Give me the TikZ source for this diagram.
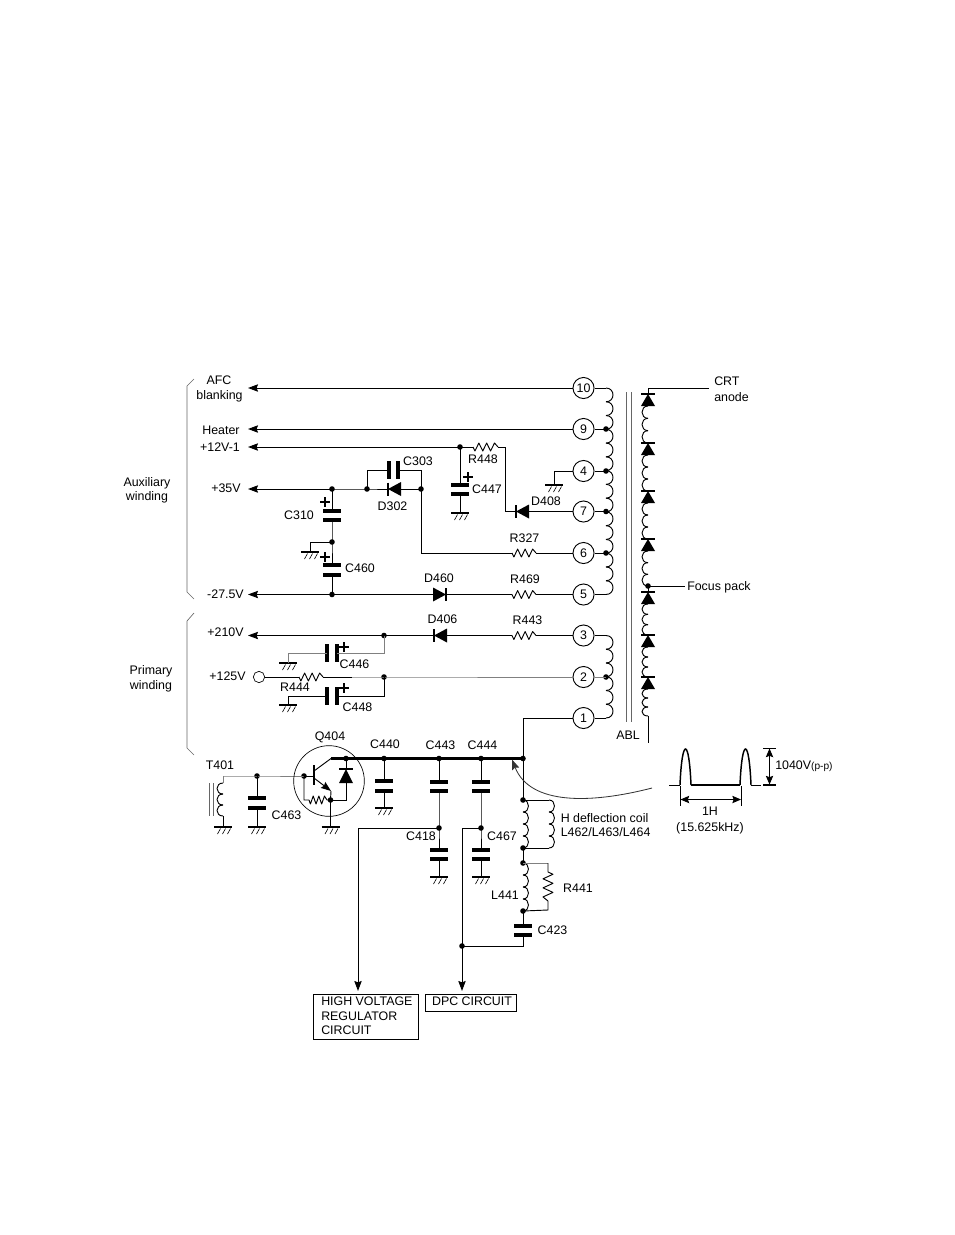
\documentclass[tikz,border=0pt]{standalone}
\usepackage{fontspec}
\setmainfont{Liberation Sans}
\usetikzlibrary{arrows.meta,calc}
\tikzset{
  wire/.style={line width=0.7pt,line join=miter},
  gw/.style={line width=0.7pt,draw=black!50},
  thin gray/.style={line width=0.5pt,draw=black!60},
  bus/.style={line width=1.8pt},
  plate/.style={line width=2.8pt},
  arr/.style={-{Stealth[length=7.5pt,width=5.5pt,inset=1pt]}},
  arrboth/.style={{Stealth[length=6.5pt,width=5.5pt,inset=1pt]}-{Stealth[length=6.5pt,width=5.5pt,inset=1pt]}},
  lab/.style={inner sep=0pt,font=\fontsize{9.3}{10.9}\selectfont,align=center,text height=6.7pt,text depth=0pt},
  labl/.style={lab,anchor=west,align=left},
  pin/.style={circle,draw,line width=0.7pt,minimum size=15.8pt,inner sep=0pt,font=\fontsize{9.3}{10.9}\selectfont},
}
\newcommand\jdot[3]{\coordinate (#1) at (#2,#3); \fill (#1) circle (2.8);}
\newcommand\capV[4]{\coordinate (#1-t) at (#2,#3); \coordinate (#1-b) at (#2,#4);
  \draw[plate] (#2-9,#3)--(#2+9,#3); \draw[plate] (#2-9,#4)--(#2+9,#4);}
\newcommand\capH[4]{\coordinate (#1-l) at (#3,#2); \coordinate (#1-r) at (#4,#2);
  \draw[plate] (#3,#2-9)--(#3,#2+9); \draw[plate] (#4,#2-9)--(#4,#2+9);}
\newcommand\resH[4]{\coordinate (#1-l) at (#2,#4); \coordinate (#1-r) at (#3,#4);
  \draw[wire,line join=round] (#2,#4)
   \foreach \k/\s in {1/-1,2/1,3/-1,4/1,5/-1,6/1}{ -- ({#2+(#3-#2)*(\k-0.5)/6.4},{#4-\s*4}) } -- (#3,#4);}
\newcommand\resV[4]{\coordinate (#1-t) at (#2,#3); \coordinate (#1-b) at (#2,#4);
  \draw[wire,line join=round] (#2,#3)
   \foreach \k/\s in {1/-1,2/1,3/-1,4/1,5/-1,6/1}{ -- ({#2-\s*5},{#3+(#4-#3)*(\k-0.5)/6.4}) } -- (#2,#4);}
\newcommand\dioH[4]{\coordinate (#1-bar) at (#2,#4); \coordinate (#1-base) at (#3,#4);
  \draw[line width=2pt] (#2,#4-6.5)--(#2,#4+6.5); \fill (#2,#4)--(#3,#4-7)--(#3,#4+7)--cycle;}
\newcommand\dioV[4]{\coordinate (#1-bar) at (#2,#3); \coordinate (#1-base) at (#2,#4);
  \draw[line width=1.6pt] (#2-7,#3)--(#2+7,#3); \fill (#2,#3)--(#2-7,#4)--(#2+7,#4)--cycle;}
\newcommand\gnd[3]{\coordinate (#1) at (#2,#3);
  \draw[line width=2pt] (#2-9,#3)--(#2+9,#3);
  \draw[line width=0.45pt] (#2-2.5,#3+1.5)--(#2-5.5,#3+7) (#2+2.5,#3+1.5)--(#2-0.5,#3+7) (#2+7.5,#3+1.5)--(#2+4.5,#3+7);}
\newcommand\coilV[5]{\foreach \k in {1,...,#4}{
   \pgfmathsetmacro\ya{#2+(\k-1)*(#3-#2)/#4}
   \pgfmathsetmacro\yb{#2+\k*(#3-#2)/#4}
   \draw[wire] (#1,\ya) .. controls ({#1+(#5)*1.33},\ya) and ({#1+(#5)*1.33},\yb) .. (#1,\yb);}}
\newcommand\plus[3]{\coordinate (#1) at (#2,#3); \draw[line width=1pt] (#2-5,#3)--(#2+5,#3) (#2,#3-5)--(#2,#3+5);}
\begin{document}
\begin{tikzpicture}[x=0.75pt,y=-0.75pt]
\useasboundingbox (0,0) rectangle (954,1235);
% ---------- pins
\node[pin] (p10) at (583.5,388) {10};
\node[pin] (p9) at (583.5,429) {9};
\node[pin] (p4) at (583.5,471) {4};
\node[pin] (p7) at (583.5,511.5) {7};
\node[pin] (p6) at (583.5,553) {6};
\node[pin] (p5) at (583.5,594.5) {5};
\node[pin] (p3) at (583.5,635.5) {3};
\node[pin] (p2) at (583.5,677) {2};
\node[pin] (p1) at (583.5,718) {1};
% ---------- primary winding coils
\coilV{606}{388}{594.5}{15}{7}
\coilV{606}{635.5}{718}{6}{7}
\jdot{t9}{606}{429}\jdot{t4}{606}{471}\jdot{t7}{606}{511.5}\jdot{t6}{606}{553}\jdot{t2}{606}{677}
\coordinate (t10) at (606,388);\coordinate (t5) at (606,594.5);\coordinate (t3) at (606,635.5);\coordinate (t1) at (606,718);
\draw[wire] (p10)--(t10) (p9)--(t9) (p4)--(t4) (p7)--(t7) (p6)--(t6) (p5)--(t5) (p3)--(t3) (p1)--(t1);
\draw[gw] (p2)--(t2);
% ---------- core
\coordinate (coreA) at (626,392);\coordinate (coreB) at (626,722);\coordinate (coreC) at (631,392);\coordinate (coreD) at (631,722);
\draw[thin gray] (coreA)--(coreB) (coreC)--(coreD);
\node[lab] (abl) at (628,735) {ABL};
% ---------- secondary
\dioV{d1}{648}{394}{406}\dioV{d2}{648}{443}{455}\dioV{d3}{648}{491}{503}\dioV{d4}{648}{539}{551}
\dioV{d5}{648}{592}{604}\dioV{d6}{648}{635}{647}\dioV{d7}{648}{677}{689}
\coilV{648}{406}{443}{3}{-6}\coilV{648}{455}{491}{3}{-6}\coilV{648}{503}{539}{3}{-6}\coilV{648}{551}{586}{3}{-6}
\coilV{648}{604}{635}{3}{-6}\coilV{648}{647}{677}{3}{-6}\coilV{648}{689}{716}{3}{-6}
\coordinate (crtc) at (709,388);\coordinate (crtb) at (648,388);
\draw[line width=0.5pt] (crtc)--(crtb)--(d1-bar);
\jdot{fp}{648}{586}
\coordinate (fpe) at (685,586);\draw[wire] (fp)--(fpe)  (fp)--(d5-bar);
\coordinate (sece) at (648,743);\coordinate (secb) at (648,716);\draw[wire] (secb)--(sece);
\node[labl] (crt) at (714,381.5) {CRT};
\node[labl] (anode) at (714,397) {anode};
\node[labl] (focus) at (687,586) {Focus pack};
% ---------- left arrows
\coordinate (a10) at (248,388);\coordinate (a9) at (248,429);\coordinate (a12) at (248,447);\coordinate (a35) at (248,489);\coordinate (a27) at (248,594.5);\coordinate (a210) at (248,635.5);
\draw[wire,arr] (p10)--(a10);
\draw[wire,arr] (p9)--(a9);
% +12V-1
\jdot{j12}{460}{447}
\resH{r448}{473}{498}{447}
\coordinate (c12) at (505,447);
\draw[wire,arr] (j12)--(a12);
\draw[wire] (j12)--(r448-l) (r448-r)--(c12);
\capV{c447}{460}{485}{494}
\gnd{g447}{460}{513}
\draw[wire] (j12)--(c447-t) (c447-b)--(g447);
\plus{pc447}{468}{477}
\dioH{d408}{516}{529}{511.5}
\coordinate (c408) at (505,511.5);
\draw[wire] (c12)--(c408)--(d408-bar) (d408-base)--(p7);
% pin 4 ground
\gnd{g4}{554}{485}
\coordinate (c4) at (554,471);
\draw[wire] (p4)--(c4)--(g4);
% +35V
\jdot{j35a}{332}{489}\jdot{j35b}{367}{489}\jdot{j35c}{421}{489}
\dioH{d302}{388}{401}{489}
\draw[wire,arr] (j35a)--(a35);
\draw[wire] (j35a)--(j35b)--(d302-bar) (d302-base)--(j35c);
\capH{c303}{470}{389}{398}
\coordinate (c303a) at (367,470);\coordinate (c303b) at (421,470);
\draw[wire] (j35b)--(c303a)--(c303-l) (c303-r)--(c303b)--(j35c);
\resH{r327}{512}{536}{553}
\coordinate (c327) at (421,553);
\draw[wire] (j35c)--(c327)--(r327-l) (r327-r)--(p6);
% C310 / C460
\capV{c310}{332}{511}{520}
\plus{pc310}{325}{502}
\jdot{jm}{332}{542}
\capV{c460}{332}{565}{575}
\plus{pc460}{325}{557}
\jdot{j27}{332}{594.5}
\coordinate (cm) at (310,542);\gnd{gm}{310}{552}
\draw[wire] (j35a)--(c310-t) (c310-b)--(jm)--(c460-t) (c460-b)--(j27) (jm)--(cm)--(gm);
% -27.5V
\draw[wire,arr] (j27)--(a27);
\dioH{d460}{446}{433}{594.5}
\resH{r469}{512}{536}{594.5}
\draw[wire] (j27)--(d460-base) (d460-bar)--(r469-l) (r469-r)--(p5);
% +210V
\jdot{j210}{384}{635.5}
\dioH{d406}{434}{447}{635.5}
\resH{r443}{512}{536}{635.5}
\draw[wire,arr] (j210)--(a210);
\draw[wire] (j210)--(d406-bar) (d406-base)--(r443-l) (r443-r)--(p3);
\capH{c446}{653}{327}{337}
\coordinate (c446a) at (384,653);\coordinate (c446b) at (288,653);\gnd{g446}{288}{663}
\draw[gw] (j210)--(c446a)--(c446-r) (c446-l)--(c446b)--(g446);
\plus{pc446}{344}{647}
% +125V
\node[circle,draw,line width=0.5pt,minimum size=8.5pt,inner sep=0pt] (o125) at (259,677) {};
\resH{r444}{299}{323}{677}
\jdot{j125}{384}{677}
\coordinate (g125) at (352,677);
\draw[wire] (o125)--(r444-l) (r444-r)--(g125);
\draw[gw] (g125)--(j125)--(p2);
\capH{c448}{696}{327}{337}
\coordinate (c448a) at (384,696);\coordinate (c448b) at (288,696);\gnd{g448}{288}{705}
\draw[wire] (j125)--(c448a)--(c448-r) (c448-l)--(c448b)--(g448);
\plus{pc448}{344}{688}
% ---------- brackets
\coordinate (b1a) at (194,379);\coordinate (b1b) at (187,386);\coordinate (b1c) at (187,592);\coordinate (b1d) at (194,599);
\coordinate (b2a) at (194,613);\coordinate (b2b) at (187,621);\coordinate (b2c) at (187,748);\coordinate (b2d) at (194,755);
\draw[thin gray] (b1a)--(b1b)--(b1c)--(b1d);
\draw[thin gray] (b2a)--(b2b)--(b2c)--(b2d);
% ---------- T401
\coordinate (t401a) at (223,776);\coordinate (t401b) at (223,783);\coordinate (t401c) at (223,816);\gnd{gt}{223}{827}
\coilV{223}{783}{816}{3}{-6}
\draw[gw] (t401a)--(t401b);
\draw[wire] (t401c)--(gt);
\coordinate (cr1) at (209,783);\coordinate (cr2) at (209,816);\coordinate (cr3) at (213,783);\coordinate (cr4) at (213,816);
\draw[thin gray] (cr1)--(cr2) (cr3)--(cr4);
\jdot{j257}{257}{776}\jdot{jb}{304}{776}
\draw[gw] (t401a)--(j257)--(jb);
\capV{c463}{257}{798}{808}
\gnd{g463}{257}{827}
\draw[wire] (j257)--(c463-t) (c463-b)--(g463);
% ---------- Q404
\node[circle,draw,line width=0.5pt,minimum size=53pt,inner sep=0pt] (q404) at (329,781) {};
\coordinate (bb) at (314,776);\coordinate (bt) at (314,765);\coordinate (bbo) at (314,785);
\draw[line width=1.8pt] (bt)--(bbo);
\draw[wire] (jb)--(bb);
\coordinate (cl) at (314,771);\coordinate (ct) at (331,758.5);
\draw[wire] (cl)--(ct);
\coordinate (el) at (314,778);\coordinate (et) at (331,791);
\draw[wire,arr] (el)--(et);
\jdot{je}{330.5}{800}
\coordinate (cr) at (304,800);
\resH{r}{309}{327}{800}
\draw[wire] (et)--(je) (jb)--(cr)--(r-l) (r-r)--(je);
\gnd{gq}{330.5}{827}
\draw[wire] (je)--(gq);
\dioV{dq}{346}{769}{783}
\jdot{jd}{346}{758.5}
\coordinate (cd) at (346,800);
\draw[wire] (jd)--(dq-bar) (dq-base)--(cd)--(je);
% ---------- bus
\jdot{j384}{384}{758.5}\jdot{j439}{439}{758.5}\jdot{j481}{481}{758.5}\jdot{j523}{523}{758.5}
\draw[bus] (ct)--(jd)--(j384)--(j439)--(j481)--(j523);
\coordinate (c1) at (523,718);
\draw[wire] (p1)--(c1)--(j523);
% ---------- caps on bus
\capV{c440}{384}{781}{791}\gnd{g440}{384}{808}
\draw[wire] (j384)--(c440-t) (c440-b)--(g440);
\capV{c443}{439}{782}{791}
\jdot{j418}{439}{828}
\capV{c418}{439}{850}{859}\gnd{g418}{439}{877}
\draw[wire] (j439)--(c443-t) (c443-b)--(j418)--(c418-t) (c418-b)--(g418);
\capV{c444}{481}{782}{791}
\jdot{j467}{481}{828}
\capV{c467}{481}{850}{859}\gnd{g467}{481}{877}
\draw[wire] (j481)--(c444-t) (c444-b)--(j467)--(c467-t) (c467-b)--(g467);
% ---------- output boxes
\node[draw,line width=0.7pt,minimum width=78.5pt,minimum height=33.7pt,inner sep=0pt] (hv) at (365.75,1016.5) {};
\node[draw,line width=0.7pt,minimum width=68.2pt,minimum height=13pt,inner sep=0pt] (dpc) at (471,1002.7) {};
\node[labl] (hv1) at (321,1001.5) {HIGH VOLTAGE};
\node[labl] (hv2) at (321,1016) {REGULATOR};
\node[labl] (hv3) at (321,1030.5) {CIRCUIT};
\node[lab] (dpct) at (472,1001.5) {DPC CIRCUIT};
\coordinate (c358) at (358,828);\coordinate (a358) at (358,991);
\draw[wire,arr] (j418)--(c358)--(a358);
\coordinate (c462) at (462,828);\jdot{j462}{462}{946}\coordinate (a462) at (462,991);
\draw[wire] (j467)--(c462)--(j462);
\draw[wire,arr] (j462)--(a462);
% ---------- H deflection
\jdot{jh1}{523}{800}\jdot{jh2}{523}{848}\jdot{jl1}{523}{863}\jdot{jl2}{523}{911}
\coordinate (h1r) at (549,800);\coordinate (h2r) at (549,848);
\draw[wire] (j523)--(jh1)--(h1r) (h2r)--(jh2)--(jl1);
\coilV{523}{800}{848}{4}{5.5}
\coilV{549}{800}{848}{4}{5.5}
\coilV{523}{863}{911}{4}{5.5}
\coordinate (rt) at (548,863);\coordinate (rb) at (548,910);
\resV{r441}{548}{872}{901}
\draw[gw] (jl1)--(rt);
\draw[wire] (rt)--(r441-t) (r441-b)--(rb)--(jl2);
\capV{c423}{523}{926}{935}
\coordinate (c423b) at (523,946);
\draw[wire] (jl2)--(c423-t) (c423-b)--(c423b)--(j462);
% ---------- waveform annotation
\coordinate (cvs) at (652,788);\coordinate (cvt) at (512,759.5);
\draw[line width=0.62pt,draw=black!80,arr] (cvs) .. controls (590,804) and (530,805) .. (cvt);
\coordinate (w0) at (669,785);\coordinate (w1) at (680,785);\coordinate (w2) at (691,785);\coordinate (w3) at (740,785);\coordinate (w4) at (751,785);\coordinate (w5) at (761,785);
\draw[line width=0.7pt] (w0)--(w1);
\draw[line width=1.1pt] (w1) .. controls (682,737) and (689,737) .. (w2);
\draw[line width=1.6pt] (w2)--(w3);
\draw[line width=1.1pt] (w3) .. controls (742,737) and (749,737) .. (w4);
\draw[line width=0.7pt] (w4)--(w5);
\coordinate (v1a) at (763,748.5);\coordinate (v1b) at (776,748.5);\coordinate (v2a) at (763,784.5);\coordinate (v2b) at (776,784.5);
\draw[line width=0.62pt] (v1a)--(v1b);
\draw[line width=1.5pt] (v2a)--(v2b);
\coordinate (va) at (769.5,748.5);\coordinate (vb) at (769.5,784.5);
\draw[wire,arrboth] (va)--(vb);
\coordinate (h1a) at (680.5,786);\coordinate (h1b) at (680.5,806);\coordinate (h2a) at (741,786);\coordinate (h2b) at (741,806);
\draw[wire] (h1a)--(h1b) (h2a)--(h2b);
\coordinate (ha) at (680.5,799.5);\coordinate (hb) at (741,799.5);
\draw[wire,arrboth] (ha)--(hb);
\node[lab] (l1h) at (710,811.5) {1H};
\node[lab] (l15) at (710,827) {(15.625kHz)};
\node[labl] (l1040) at (775,765.5) {1040V{\fontsize{7.6}{9}\selectfont(p-p)}};
% ---------- labels
\node[lab] (lafc) at (219,380) {AFC};
\node[lab] (lblank) at (219.5,395) {blanking};
\node[lab] (lheat) at (221,430) {Heater};
\node[lab] (l12) at (220,447.5) {+12V-1};
\node[lab] (l35) at (226,488.5) {+35V};
\node[lab] (l27) at (225.5,594) {-27.5V};
\node[lab] (l210) at (225.5,632) {+210V};
\node[lab] (l125) at (227.5,676) {+125V};
\node[lab] (laux) at (147,482) {Auxiliary};
\node[lab] (lwind) at (147,496.5) {winding};
\node[lab] (lpri) at (151,670.5) {Primary};
\node[lab] (lwind2) at (151,685) {winding};
\node[lab] (lc303) at (418,461) {C303};
\node[lab] (ld302) at (392.5,506) {D302};
\node[lab] (lc310) at (299,515) {C310};
\node[lab] (lc460) at (360,568.5) {C460};
\node[lab] (ld460) at (439,578.5) {D460};
\node[lab] (lr448) at (483,459.5) {R448};
\node[lab] (lc447) at (487,489.5) {C447};
\node[lab] (ld408) at (546,501.5) {D408};
\node[lab] (lr327) at (524.5,538) {R327};
\node[lab] (lr469) at (525,579) {R469};
\node[lab] (lr443) at (527.5,620) {R443};
\node[lab] (ld406) at (442.5,619) {D406};
\node[lab] (lc446) at (354.5,664) {C446};
\node[lab] (lc448) at (357.5,707) {C448};
\node[lab] (lr444) at (295,687) {R444};
\node[lab] (lq404) at (330,736) {Q404};
\node[lab] (lt401) at (220,765) {T401};
\node[lab] (lc440) at (385,744) {C440};
\node[lab] (lc443) at (440.5,745) {C443};
\node[lab] (lc444) at (482.5,745) {C444};
\node[lab] (lc463) at (286.5,815) {C463};
\node[lab] (lc418) at (421,836) {C418};
\node[lab] (lc467) at (502,836) {C467};
\node[labl] (lh1) at (560.5,818) {H deflection coil};
\node[labl] (lh2) at (560.5,832) {L462/L463/L464};
\node[lab] (lr441) at (578,888) {R441};
\node[lab] (ll441) at (505,895) {L441};
\node[lab] (lc423) at (552.5,930) {C423};
\end{tikzpicture}
\end{document}
